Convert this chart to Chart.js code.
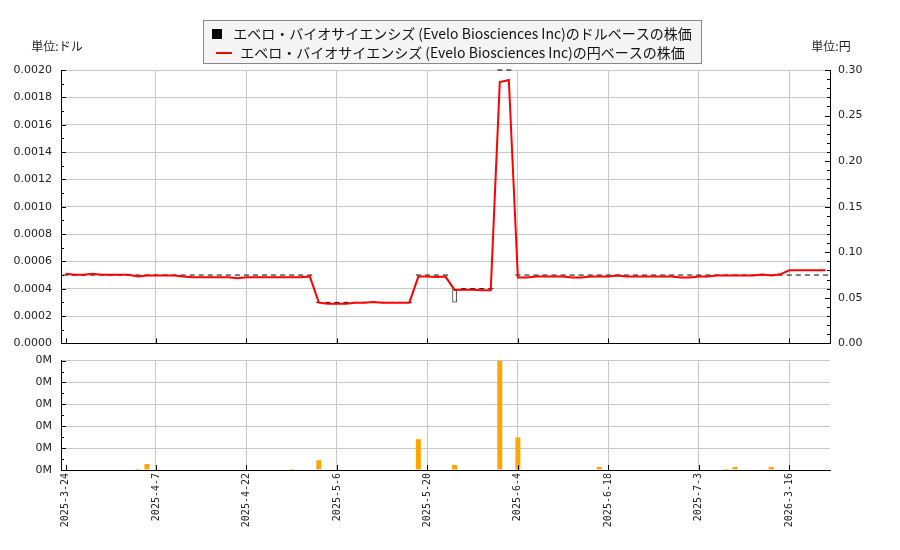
<!DOCTYPE html>
<html><head><meta charset="utf-8">
<script src="https://cdn.jsdelivr.net/npm/chart.js@4.4.1/dist/chart.umd.min.js"></script>
<style>
html,body{margin:0;padding:0;background:#fff;}
#wrap{position:relative;width:900px;height:550px;overflow:hidden;}
#c1{position:absolute;left:0;top:0;}
#c2{position:absolute;left:0;top:345px;}
</style></head><body>
<div id="wrap">
<canvas id="c1" width="900" height="359"></canvas>
<canvas id="c2" width="900" height="205"></canvas>
</div>
<script>
// ---- data ----
const dates = [
 '2025-3-24','2025-3-25','2025-3-26','2025-3-27','2025-3-28','2025-3-31','2025-4-1','2025-4-2','2025-4-3','2025-4-4',
 '2025-4-7','2025-4-8','2025-4-9','2025-4-10','2025-4-11','2025-4-14','2025-4-15','2025-4-16','2025-4-17','2025-4-21',
 '2025-4-22','2025-4-23','2025-4-24','2025-4-25','2025-4-28','2025-4-29','2025-4-30','2025-5-1','2025-5-2','2025-5-5',
 '2025-5-6','2025-5-7','2025-5-8','2025-5-9','2025-5-12','2025-5-13','2025-5-14','2025-5-15','2025-5-16','2025-5-19',
 '2025-5-20','2025-5-21','2025-5-22','2025-5-23','2025-5-27','2025-5-28','2025-5-29','2025-5-30','2025-6-2','2025-6-3',
 '2025-6-4','2025-6-5','2025-6-6','2025-6-9','2025-6-10','2025-6-11','2025-6-12','2025-6-13','2025-6-16','2025-6-17',
 '2025-6-18','2025-6-20','2025-6-23','2025-6-24','2025-6-25','2025-6-26','2025-6-27','2025-6-30','2025-7-1','2025-7-2',
 '2025-7-3','2025-7-7','2025-7-8','2025-7-9','2025-7-10','2025-7-11','2025-7-14','2025-7-15','2025-7-16','2025-7-17',
 '2026-3-16','2026-3-17','2026-3-18','2026-3-19','2026-3-20'
];
const yenPrice = [
 0.0763,0.0752,0.0752,0.0763,0.0752,0.0752,0.0752,0.0752,0.0735,0.0744,
 0.0744,0.0744,0.0744,0.0733,0.0726,0.0726,0.0726,0.0726,0.0726,0.0715,
 0.0726,0.0726,0.0726,0.0726,0.0726,0.0726,0.0726,0.0735,0.0447,0.0436,
 0.0436,0.0436,0.0447,0.0447,0.0454,0.0447,0.0447,0.0447,0.0447,0.0733,
 0.0733,0.0728,0.0733,0.0587,0.0590,0.0590,0.0583,0.0583,0.2868,0.2890,
 0.0724,0.0724,0.0733,0.0733,0.0733,0.0733,0.0722,0.0722,0.0733,0.0733,
 0.0733,0.0744,0.0733,0.0733,0.0733,0.0733,0.0733,0.0733,0.0722,0.0722,
 0.0733,0.0733,0.0744,0.0744,0.0744,0.0744,0.0744,0.0755,0.0744,0.0758,
 0.0803,0.0803,0.0803,0.0803,0.0803
];
const dollarOpen = [
 0.0005,0.0005,0.0005,0.0005,0.0005,0.0005,0.0005,0.0005,0.0005,0.0005,
 0.0005,0.0005,0.0005,0.0005,0.0005,0.0005,0.0005,0.0005,0.0005,0.0005,
 0.0005,0.0005,0.0005,0.0005,0.0005,0.0005,0.0005,0.0005,0.0003,0.0003,
 0.0003,0.0003,0.0003,0.0003,0.0003,0.0003,0.0003,0.0003,0.0003,0.0005,
 0.0005,0.0005,0.0005,0.0003,0.0004,0.0004,0.0004,0.0004,0.0020,0.0020,
 0.0005,0.0005,0.0005,0.0005,0.0005,0.0005,0.0005,0.0005,0.0005,0.0005,
 0.0005,0.0005,0.0005,0.0005,0.0005,0.0005,0.0005,0.0005,0.0005,0.0005,
 0.0005,0.0005,0.0005,0.0005,0.0005,0.0005,0.0005,0.0005,0.0005,0.0005,
 0.0005,0.0005,0.0005,0.0005,0.0005
];
const dollarClose = [
 0.0005,0.0005,0.0005,0.0005,0.0005,0.0005,0.0005,0.0005,0.0005,0.0005,
 0.0005,0.0005,0.0005,0.0005,0.0005,0.0005,0.0005,0.0005,0.0005,0.0005,
 0.0005,0.0005,0.0005,0.0005,0.0005,0.0005,0.0005,0.0005,0.0003,0.0003,
 0.0003,0.0003,0.0003,0.0003,0.0003,0.0003,0.0003,0.0003,0.0003,0.0005,
 0.0005,0.0005,0.0005,0.0004,0.0004,0.0004,0.0004,0.0004,0.0020,0.0020,
 0.0005,0.0005,0.0005,0.0005,0.0005,0.0005,0.0005,0.0005,0.0005,0.0005,
 0.0005,0.0005,0.0005,0.0005,0.0005,0.0005,0.0005,0.0005,0.0005,0.0005,
 0.0005,0.0005,0.0005,0.0005,0.0005,0.0005,0.0005,0.0005,0.0005,0.0005,
 0.0005,0.0005,0.0005,0.0005,0.0005
];
const volume = [
 0,0,0,0,0,0,0,0,4500,27000,
 0,0,0,0,0,0,0,0,0,0,
 0,0,0,0,0,4500,0,0,45000,0,
 0,0,0,0,0,0,0,0,0,140000,
 0,0,0,22500,0,0,0,0,500000,0,
 149000,0,0,0,0,0,0,0,0,13500,
 0,0,0,0,0,0,0,0,0,0,
 0,0,0,4500,13500,0,0,0,13500,0,
 0,0,0,0,0
];
const legendDollar = 'エベロ・バイオサイエンシズ (Evelo Biosciences Inc)のドルベースの株価';
const legendYen = 'エベロ・バイオサイエンシズ (Evelo Biosciences Inc)の円ベースの株価';
const unitLeft = '単位:ドル';
const unitRight = '単位:円';

// derived candle pieces
const dollarFlat = dollarClose.map((c,i)=> c === dollarOpen[i] ? c : null);
const dollarBox = dollarClose.map((c,i)=> c !== dollarOpen[i] ? [dollarOpen[i], c] : null);

Chart.defaults.font.family = 'DejaVu Sans';
Chart.defaults.font.size = 11;
Chart.defaults.color = '#222';

const GRID = '#c8c8c8';
const xGridColor = c => (c.index % 10 === 0 && c.index > 0) ? GRID : 'rgba(0,0,0,0)';

// legend icons
function makeIcon(w,h,draw){const cv=document.createElement('canvas');cv.width=w;cv.height=h;draw(cv.getContext('2d'));return cv;}
const iconSquare = makeIcon(10,10,g=>{g.fillStyle='#000';g.fillRect(0,0,10,10);});
const iconLine = makeIcon(16,2,g=>{g.fillStyle='#ff0000';g.fillRect(0,0,16,2);});

const innerTicks = {
  id:'innerTicks',
  afterDraw(chart, args, o){
    const ctx = chart.ctx, a = chart.chartArea;
    ctx.save(); ctx.strokeStyle='#000'; ctx.lineWidth=1; ctx.beginPath();
    (o.y||[]).forEach(c=>{
      const s = chart.scales[c.id];
      const n = Math.round((s.max - s.min)/c.minor);
      const ratio = Math.round(c.major/c.minor);
      for(let k=0;k<=n;k++){
        const py = Math.round(s.getPixelForValue(s.min + k*c.minor)) + 0.5;
        const len = (k % ratio === 0) ? 5 : 3;
        if(c.side==='left'){ctx.moveTo(a.left, py); ctx.lineTo(a.left+len, py);}
        else {ctx.moveTo(a.right, py); ctx.lineTo(a.right-len, py);}
      }
    });
    const xs = chart.scales.x;
    for(let i=0;i<dates.length;i+=10){
      const px = Math.round(xs.getPixelForTick(i)) + 0.5;
      ctx.moveTo(px, a.bottom); ctx.lineTo(px, a.bottom-5);
    }
    ctx.stroke(); ctx.restore();
  }
};

const legendFrame = {
  id:'legendFrame',
  beforeDraw(chart){
    const lg = chart.legend; if(!lg || !lg.legendHitBoxes || !lg.legendHitBoxes.length) return;
    const hb = lg.legendHitBoxes;
    const l = Math.min(...hb.map(h=>h.left)), r = Math.max(...hb.map(h=>h.left+h.width));
    const ctx = chart.ctx; ctx.save();
    const x = Math.round(l-5)+0.5, y = Math.round(lg.top-2)+0.5, w = Math.round(r-l+14), h = 43;
    ctx.fillStyle='#f4f4f4'; ctx.fillRect(x,y,w,h);
    ctx.strokeStyle='#888'; ctx.lineWidth=1; ctx.strokeRect(x,y,w,h);
    ctx.restore();
  }
};

const unitLabels = {
  id:'unitLabels',
  afterDraw(chart, args, o){
    const a = chart.chartArea, ctx = chart.ctx;
    ctx.save(); ctx.font = '12px "Noto Sans CJK JP"'; ctx.fillStyle='#222';
    ctx.textBaseline='middle'; ctx.textAlign='center';
    ctx.fillText(o.left, a.left - 4, a.top - 24);
    ctx.fillText(o.right, a.right + 1, a.top - 24);
    ctx.restore();
  }
};

new Chart(document.getElementById('c1'), {
  type:'line',
  data:{ labels: dates, datasets:[
    {type:'line', label: legendYen, data: yenPrice, yAxisID:'y2', borderColor:'#ff0000', backgroundColor:'#ff0000',
     borderWidth:2, pointRadius:0, pointHoverRadius:0, tension:0, order:0},
    {type:'line', label: legendDollar, data: dollarFlat, yAxisID:'y', showLine:false, pointStyle:'line',
     pointRadius:2.5, pointHoverRadius:2.5, pointBorderColor:'#000', borderColor:'#000', pointBorderWidth:1, clip:false, order:1},
    {type:'bar', label:'box', data: dollarBox, yAxisID:'y', backgroundColor:'#fff', borderColor:'#000', borderWidth:1,
     borderSkipped:false, barPercentage:0.5, categoryPercentage:1, order:2}
  ]},
  options:{
    responsive:false, animation:false, events:[],
    layout:{padding:{top:22, bottom:0, left:0, right:0}},
    plugins:{
      tooltip:{enabled:false},
      legend:{
        position:'top', align:'center',
        labels:{
          usePointStyle:true, pointStyleWidth:18, padding:5, color:'#111',
          font:{family:'"Noto Sans CJK JP"', size:14},
          generateLabels:()=>[
            {text:legendDollar, pointStyle:iconSquare, fillStyle:'#000', strokeStyle:'#000', lineWidth:0, hidden:false, datasetIndex:1, fontColor:'#111'},
            {text:legendYen, pointStyle:iconLine, fillStyle:'#f00', strokeStyle:'#f00', lineWidth:0, hidden:false, datasetIndex:0, fontColor:'#111'}
          ]
        }
      },
      innerTicks:{ y:[
        {id:'y', side:'left', major:0.0002, minor:0.0001},
        {id:'y2', side:'right', major:0.05, minor:0.01}
      ]},
      unitLabels:{left:unitLeft, right:unitRight}
    },
    scales:{
      x:{ type:'category', offset:true,
          grid:{offset:false, color:xGridColor, drawTicks:false},
          border:{color:'#000'}, ticks:{display:false},
          afterFit:s=>{s.height=9;} },
      y:{ position:'left', min:0, max:0.002,
          ticks:{stepSize:0.0002, callback:v=>Number(v).toFixed(4), padding:9},
          grid:{color:GRID, drawTicks:false}, border:{color:'#000'},
          afterFit:s=>{s.width=61;} },
      y2:{ position:'right', min:0, max:0.3,
          ticks:{stepSize:0.05, callback:v=>Number(v).toFixed(2), padding:8},
          grid:{drawOnChartArea:false, drawTicks:false}, border:{color:'#000'},
          afterFit:s=>{s.width=70;} }
    }
  },
  plugins:[legendFrame, innerTicks, unitLabels]
});

new Chart(document.getElementById('c2'), {
  type:'bar',
  data:{ labels: dates, datasets:[
    {label:'volume', data: volume, backgroundColor:'#ffa500', barPercentage:0.55, categoryPercentage:1}
  ]},
  options:{
    responsive:false, animation:false, events:[],
    layout:{padding:{top:14, right:70, left:0, bottom:0}},
    plugins:{ legend:{display:false}, tooltip:{enabled:false},
      innerTicks:{ y:[{id:'y', side:'left', major:100000, minor:50000}] } },
    scales:{
      x:{ offset:true,
          grid:{offset:false, color:xGridColor, drawTicks:false},
          border:{color:'#000'},
          ticks:{autoSkip:false, minRotation:90, maxRotation:90, padding:3,
                 font:{family:'DejaVu Sans Mono', size:10},
                 callback:(v,i)=> (i % 10 === 0) ? dates[i] : ''},
          afterFit:s=>{s.height=80;} },
      y:{ min:0, max:500000,
          ticks:{stepSize:100000, callback:v=>Math.floor(v/1e6)+'M', padding:9},
          grid:{color:GRID, drawTicks:false}, border:{color:'#000'},
          afterFit:s=>{s.width=61;} }
    }
  },
  plugins:[innerTicks]
});
</script>
</body></html>
